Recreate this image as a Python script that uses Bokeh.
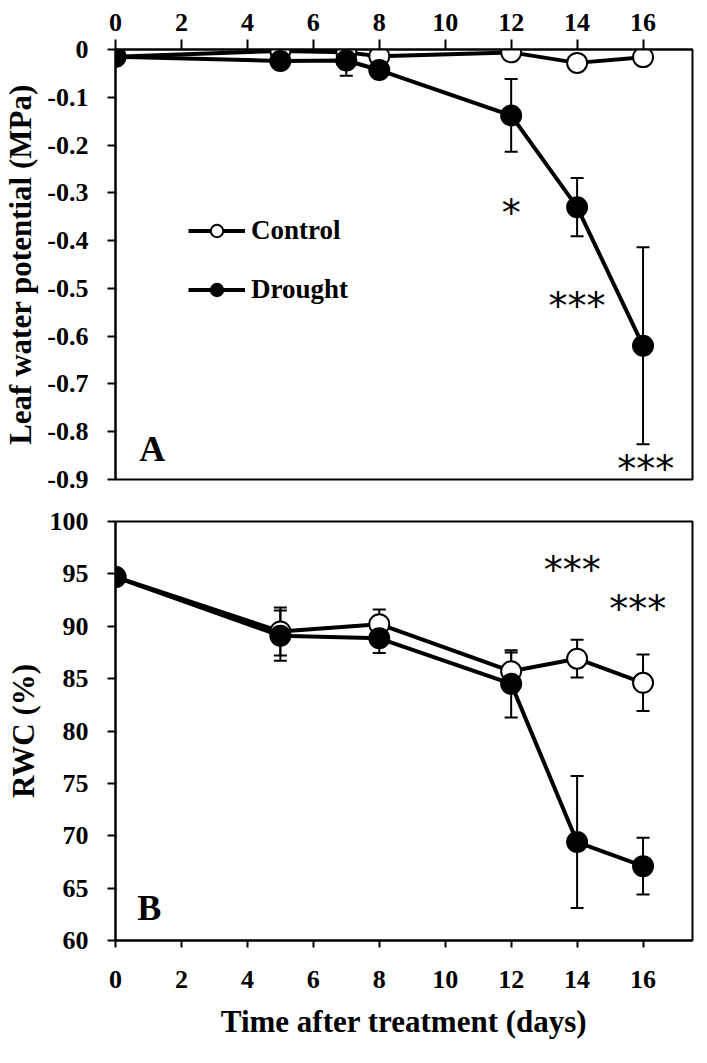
from bokeh.plotting import figure
from bokeh.models import (Range1d, FixedTicker, ColumnDataSource, Whisker, TeeHead,
                          Legend, LegendItem, Label)
from bokeh.layouts import column
from bokeh.embed import file_html
from bokeh.resources import INLINE
from bokeh.core.properties import value

# ---------------- data ----------------
days_lwp = [0, 5, 7, 8, 12, 14, 16]
lwp_control = [-0.015, -0.003, -0.006, -0.014, -0.006, -0.028, -0.016]
lwp_control_err = [0.003, 0.004, 0.004, 0.005, 0.005, 0.006, 0.005]
lwp_drought = [-0.015, -0.024, -0.023, -0.043, -0.138, -0.330, -0.620]
lwp_drought_err = [0.004, 0.006, 0.032, 0.008, 0.076, 0.061, 0.206]

days_rwc = [0, 5, 8, 12, 14, 16]
rwc_control = [94.7, 89.5, 90.2, 85.7, 86.9, 84.6]
rwc_control_err = [0.3, 2.3, 1.4, 1.8, 1.8, 2.7]
rwc_drought = [94.7, 89.1, 88.85, 84.5, 69.4, 67.1]
rwc_drought_err = [0.3, 2.4, 1.4, 3.2, 6.3, 2.7]

x_ticks = [0, 2, 4, 6, 8, 10, 12, 14, 16]
lwp_ticks = [0, -0.1, -0.2, -0.3, -0.4, -0.5, -0.6, -0.7, -0.8, -0.9]
lwp_tick_labels = ["0", "-0.1", "-0.2", "-0.3", "-0.4", "-0.5", "-0.6", "-0.7", "-0.8", "-0.9"]
rwc_ticks = [60, 65, 70, 75, 80, 85, 90, 95, 100]

series_names = ["Control", "Drought"]
x_title = "Time after treatment (days)"
lwp_title = "Leaf water potential (MPa)"
rwc_title = "RWC (%)"

# significance marks (label, annotation position)
sig_lwp_labels = ["*", "***", "***"]
sig_lwp_x = [12.0, 14.0, 16.08]
sig_lwp_y = [-0.331, -0.527, -0.867]
sig_rwc_labels = ["***", "***"]
sig_rwc_x = [13.85, 15.84]
sig_rwc_y = [95.8, 92.1]

# ---------------- style ----------------
SERIF = "Liberation Serif"
TICK_FS = "26px"
TITLE_FS = "31px"


def style_axis(ax, tick_out, standoff):
    ax.axis_line_width = 2
    ax.axis_line_color = "black"
    ax.major_tick_line_width = 2
    ax.major_tick_line_color = "black"
    ax.major_tick_out = tick_out
    ax.major_tick_in = 0
    ax.minor_tick_line_color = None
    ax.major_label_text_font = SERIF
    ax.major_label_text_font_style = "bold"
    ax.major_label_text_font_size = TICK_FS
    ax.major_label_text_color = "black"
    ax.major_label_standoff = standoff
    ax.axis_label_text_font = SERIF
    ax.axis_label_text_font_style = "bold"
    ax.axis_label_text_font_size = TITLE_FS
    ax.axis_label_text_color = "black"


def base_fig(height, yr, xloc, top, bottom):
    p = figure(width=699, height=height, x_range=Range1d(0, 17.5), y_range=yr,
               x_axis_location=xloc, toolbar_location=None, output_backend="svg",
               min_border_left=111, min_border_right=7,
               min_border_top=top, min_border_bottom=bottom)
    p.xgrid.visible = False
    p.ygrid.visible = False
    p.outline_line_color = "black"
    p.outline_line_width = 2
    p.outline_line_alpha = 1
    p.background_fill_color = "white"
    p.border_fill_color = "white"
    return p


def add_series(p, x, y, err, fill):
    src = ColumnDataSource(dict(x=x, y=y,
                                upper=[v + e for v, e in zip(y, err)],
                                lower=[v - e for v, e in zip(y, err)]))
    w = Whisker(source=src, base="x", upper="upper", lower="lower",
                line_width=2, line_color="black", level="underlay",
                upper_head=TeeHead(size=13, line_width=2, line_color="black"),
                lower_head=TeeHead(size=13, line_width=2, line_color="black"))
    p.add_layout(w)
    lr = p.line("x", "y", source=src, line_width=4, line_color="black")
    sr = p.scatter("x", "y", source=src, marker="circle", size=20,
                   fill_color=fill, line_color="black", line_width=2)
    return lr, sr


# ---------------- panel A ----------------
pA = base_fig(500, Range1d(-0.9, 0), "above", 49, 21)
style_axis(pA.xaxis[0], 10, 9)
pA.xaxis[0].ticker = FixedTicker(ticks=x_ticks)
style_axis(pA.yaxis[0], 8, 19)
pA.yaxis[0].ticker = FixedTicker(ticks=lwp_ticks)
pA.yaxis[0].major_label_overrides = dict(zip(lwp_ticks, lwp_tick_labels))
pA.yaxis[0].axis_label = lwp_title
pA.yaxis[0].axis_label_standoff = 6

lc, sc = add_series(pA, days_lwp, lwp_control, lwp_control_err, "white")
ld, sd = add_series(pA, days_lwp, lwp_drought, lwp_drought_err, "black")

legend = Legend(items=[LegendItem(label=series_names[0], renderers=[lc, sc]),
                       LegendItem(label=series_names[1], renderers=[ld, sd])],
                location=(73, 174), orientation="vertical",
                glyph_width=57, glyph_height=31, label_height=31, spacing=28,
                label_standoff=6, padding=0, margin=0,
                border_line_color=None, background_fill_alpha=0,
                label_text_font=SERIF, label_text_font_style="bold",
                label_text_font_size="27px", label_text_color="black")
pA.add_layout(legend)

pA.text(x=sig_lwp_x, y=sig_lwp_y, text=sig_lwp_labels, text_font=value("DejaVu Sans"),
        text_font_size="38px", text_align="center", text_baseline="middle",
        y_offset=5, text_color="black")
pA.add_layout(Label(x=0.72, y=-0.837, text="A", text_font=SERIF, text_font_style="bold",
                    text_font_size="36px", text_align="left", text_baseline="alphabetic",
                    text_color="black"))

# ---------------- panel B ----------------
pB = base_fig(547, Range1d(60, 100), "below", 21, 107)
style_axis(pB.xaxis[0], 7, 23)
pB.xaxis[0].ticker = FixedTicker(ticks=x_ticks)
pB.xaxis[0].axis_label = x_title
pB.xaxis[0].axis_label_standoff = 13
style_axis(pB.yaxis[0], 8, 19)
pB.yaxis[0].ticker = FixedTicker(ticks=rwc_ticks)
pB.yaxis[0].axis_label = rwc_title
pB.yaxis[0].axis_label_standoff = 6

add_series(pB, days_rwc, rwc_control, rwc_control_err, "white")
add_series(pB, days_rwc, rwc_drought, rwc_drought_err, "black")

pB.text(x=sig_rwc_x, y=sig_rwc_y, text=sig_rwc_labels, text_font=value("DejaVu Sans"),
        text_font_size="38px", text_align="center", text_baseline="middle",
        y_offset=5, text_color="black")
pB.add_layout(Label(x=0.66, y=63.15, text="B", text_font=SERIF, text_font_style="bold",
                    text_font_size="36px", text_align="left", text_baseline="alphabetic",
                    text_color="black"))

layout = column(pA, pB, spacing=0)
open("out.html", "w").write(file_html(layout, INLINE))
